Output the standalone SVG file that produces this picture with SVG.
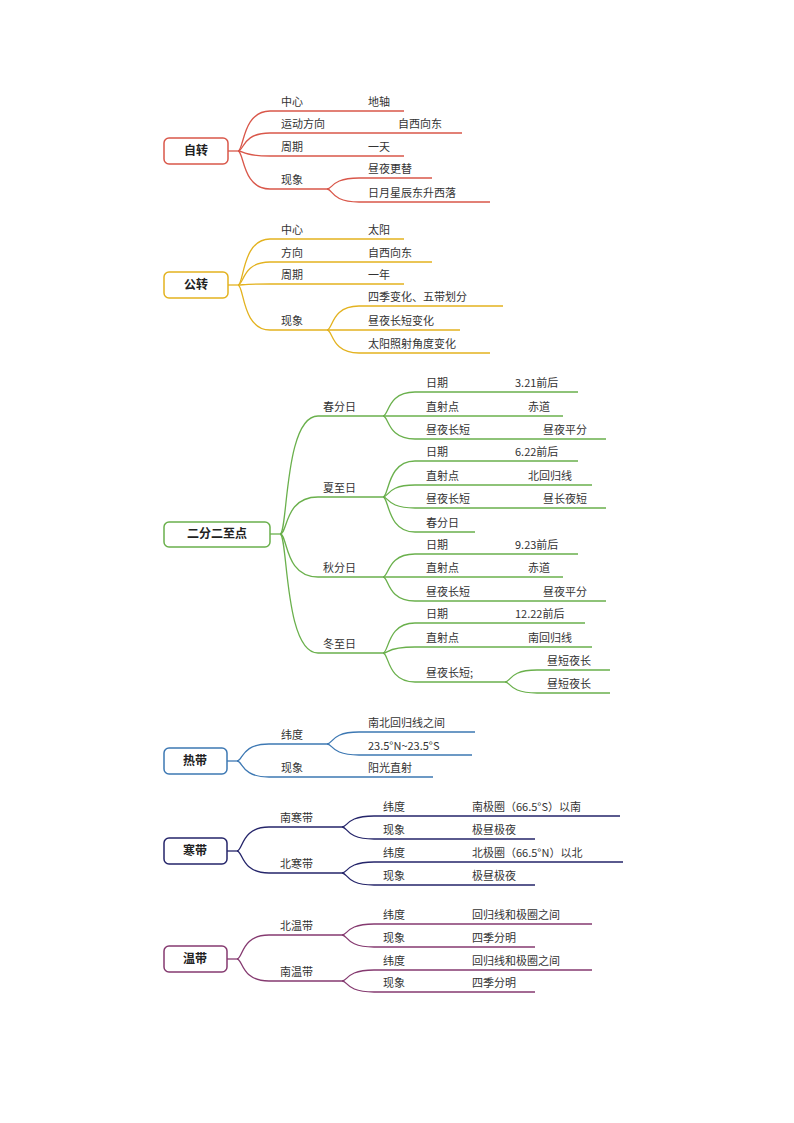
<svg xmlns="http://www.w3.org/2000/svg" width="794" height="1123" viewBox="0 0 794 1123">
<style>
text{font-family:"Noto Sans CJK SC","Liberation Sans",sans-serif;font-size:11px;fill:#333}
.b{font-weight:bold;font-size:12px;text-anchor:middle;fill:#222}
path{fill:none;stroke-width:1.3}
rect{fill:#fff;stroke-width:1.5}
.r{stroke:#d9574a}.y{stroke:#e3b21f}.g{stroke:#6ab04c}.u{stroke:#3d78b3}.n{stroke:#25256a}.p{stroke:#853a70}
</style>
<rect width="794" height="1123" fill="#fff" stroke="none"/>
<g id="connectors">
<g class="r">
<path d="M228 151H238"/>
<path d="M238 151C244 151 242 111 270 111H404"/>
<path d="M238 151C244 151 242 133 270 133H462"/>
<path d="M238 151C244 151 242 156 270 156H404"/>
<path d="M238 151C244 151 242 189 270 189H327"/>
<path d="M327 189C333 189 331 178 359 178H432"/>
<path d="M327 189C333 189 331 202 359 202H490"/>
</g>
<g class="y">
<path d="M228 285H238"/>
<path d="M238 285C244 285 242 239 270 239H404"/>
<path d="M238 285C244 285 242 262 270 262H432"/>
<path d="M238 285C244 285 242 284 270 284H404"/>
<path d="M238 285C244 285 242 330 270 330H327"/>
<path d="M327 330C333 330 331 306 359 306H503"/>
<path d="M327 330H460"/>
<path d="M327 330C333 330 331 353 359 353H490"/>
</g>
<g class="g">
<path d="M270 534H280"/>
<path d="M280 534C288 534 284 416 318 416H383"/>
<path d="M280 534C288 534 284 497 318 497H383"/>
<path d="M280 534C288 534 284 577 318 577H383"/>
<path d="M280 534C288 534 284 653 318 653H383"/>
<path d="M383 416C389 416 387 392 415 392H578"/>
<path d="M383 416H563"/>
<path d="M383 416C389 416 387 439 415 439H606"/>
<path d="M383 497C389 497 387 461 415 461H578"/>
<path d="M383 497C389 497 387 485 415 485H592"/>
<path d="M383 497C389 497 387 508 415 508H606"/>
<path d="M383 497C389 497 387 532 415 532H475"/>
<path d="M383 577C389 577 387 554 415 554H578"/>
<path d="M383 577H563"/>
<path d="M383 577C389 577 387 601 415 601H606"/>
<path d="M383 653C389 653 387 623 415 623H585"/>
<path d="M383 653C389 653 387 647 415 647H592"/>
<path d="M383 653C389 653 387 682 415 682H505"/>
<path d="M505 682C511 682 509 670 537 670H610"/>
<path d="M505 682C511 682 509 693 537 693H610"/>
</g>
<g class="u">
<path d="M227 761H237"/>
<path d="M237 761C243 761 241 744 269 744H327"/>
<path d="M237 761C243 761 241 777 269 777H433"/>
<path d="M327 744C333 744 331 732 359 732H475"/>
<path d="M327 744C333 744 331 755 359 755H472"/>
</g>
<g class="n">
<path d="M227 851H237"/>
<path d="M237 851C243 851 241 827 269 827H342"/>
<path d="M237 851C243 851 241 873 269 873H342"/>
<path d="M342 827C348 827 346 816 374 816H620"/>
<path d="M342 827C348 827 346 839 374 839H535"/>
<path d="M342 873C348 873 346 862 374 862H623"/>
<path d="M342 873C348 873 346 885 374 885H535"/>
</g>
<g class="p">
<path d="M227 959H237"/>
<path d="M237 959C243 959 241 935 269 935H342"/>
<path d="M237 959C243 959 241 981 269 981H342"/>
<path d="M342 935C348 935 346 924 374 924H592"/>
<path d="M342 935C348 935 346 947 374 947H535"/>
<path d="M342 981C348 981 346 970 374 970H592"/>
<path d="M342 981C348 981 346 992 374 992H535"/>
</g>
</g>
<g id="n-zizhuan">
<rect class="r" x="164" y="138" width="64" height="26" rx="5"/><text class="b" x="196" y="155">自转</text>
<text x="281" y="106">中心</text><text x="368" y="106">地轴</text>
<text x="281" y="128">运动方向</text><text x="398" y="128">自西向东</text>
<text x="281" y="151">周期</text><text x="368" y="151">一天</text>
<text x="281" y="184">现象</text><text x="368" y="173">昼夜更替</text><text x="368" y="197">日月星辰东升西落</text>
</g>
<g id="n-gongzhuan">
<rect class="y" x="164" y="272" width="64" height="26" rx="5"/><text class="b" x="196" y="289">公转</text>
<text x="281" y="234">中心</text><text x="368" y="234">太阳</text>
<text x="281" y="257">方向</text><text x="368" y="257">自西向东</text>
<text x="281" y="279">周期</text><text x="368" y="279">一年</text>
<text x="281" y="325">现象</text><text x="368" y="301">四季变化、五带划分</text><text x="368" y="325">昼夜长短变化</text><text x="368" y="348">太阳照射角度变化</text>
</g>
<g id="n-erfen">
<rect class="g" x="164" y="522" width="106" height="25" rx="5"/><text class="b" x="217" y="538">二分二至点</text>
<text x="323" y="411">春分日</text><text x="323" y="492">夏至日</text><text x="323" y="572">秋分日</text><text x="323" y="648">冬至日</text>
<text x="426" y="387">日期</text><text x="515" y="387">3.21前后</text>
<text x="426" y="411">直射点</text><text x="528" y="411">赤道</text>
<text x="426" y="434">昼夜长短</text><text x="543" y="434">昼夜平分</text>
<text x="426" y="456">日期</text><text x="515" y="456">6.22前后</text>
<text x="426" y="480">直射点</text><text x="528" y="480">北回归线</text>
<text x="426" y="503">昼夜长短</text><text x="543" y="503">昼长夜短</text>
<text x="426" y="527">春分日</text>
<text x="426" y="549">日期</text><text x="515" y="549">9.23前后</text>
<text x="426" y="572">直射点</text><text x="528" y="572">赤道</text>
<text x="426" y="596">昼夜长短</text><text x="543" y="596">昼夜平分</text>
<text x="426" y="618">日期</text><text x="515" y="618">12.22前后</text>
<text x="426" y="642">直射点</text><text x="528" y="642">南回归线</text>
<text x="426" y="677">昼夜长短;</text><text x="547" y="665">昼短夜长</text><text x="547" y="688">昼短夜长</text>
</g>
<g id="n-redai">
<rect class="u" x="164" y="748" width="63" height="26" rx="5"/><text class="b" x="195" y="765">热带</text>
<text x="281" y="739">纬度</text><text x="368" y="727">南北回归线之间</text><text x="368" y="750">23.5°N~23.5°S</text>
<text x="281" y="772">现象</text><text x="368" y="772">阳光直射</text>
</g>
<g id="n-handai">
<rect class="n" x="164" y="838" width="63" height="26" rx="5"/><text class="b" x="195" y="855">寒带</text>
<text x="280" y="822">南寒带</text><text x="280" y="868">北寒带</text>
<text x="383" y="811">纬度</text><text x="472" y="811">南极圈（66.5°S）以南</text>
<text x="383" y="834">现象</text><text x="472" y="834">极昼极夜</text>
<text x="383" y="857">纬度</text><text x="472" y="857">北极圈（66.5°N）以北</text>
<text x="383" y="880">现象</text><text x="472" y="880">极昼极夜</text>
</g>
<g id="n-wendai">
<rect class="p" x="164" y="946" width="63" height="26" rx="5"/><text class="b" x="195" y="963">温带</text>
<text x="280" y="930">北温带</text><text x="280" y="976">南温带</text>
<text x="383" y="919">纬度</text><text x="472" y="919">回归线和极圈之间</text>
<text x="383" y="942">现象</text><text x="472" y="942">四季分明</text>
<text x="383" y="965">纬度</text><text x="472" y="965">回归线和极圈之间</text>
<text x="383" y="987">现象</text><text x="472" y="987">四季分明</text>
</g>
</svg>
